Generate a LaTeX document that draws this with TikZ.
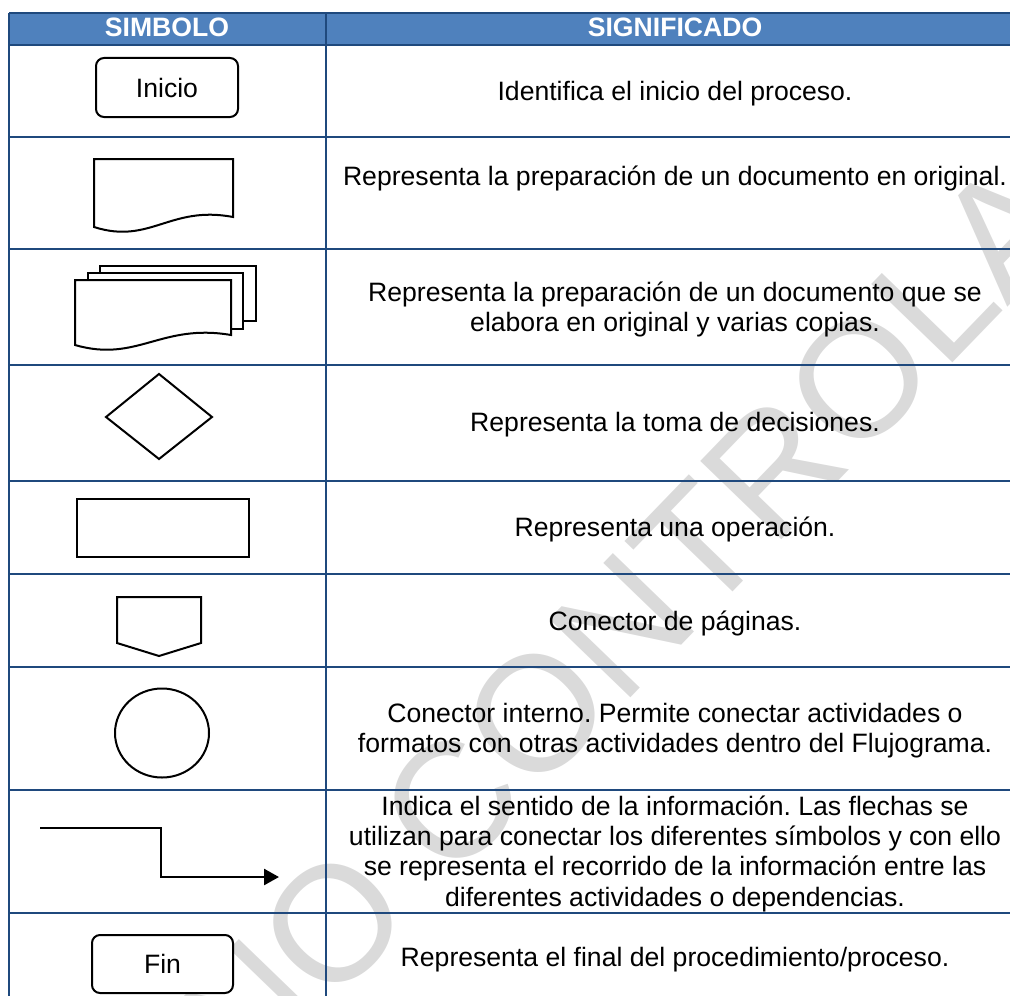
\documentclass[tikz,border=0pt]{standalone}
\usepackage{fontspec}
\setmainfont{Liberation Sans}
\usepackage{xcolor}
\usetikzlibrary{arrows.meta}
\frenchspacing

\definecolor{cabecera}{RGB}{79,129,189}
\definecolor{borde}{RGB}{31,73,125}
\definecolor{marcagris}{RGB}{218,218,218}

\begin{document}
\begin{tikzpicture}[x=0.5pt, y=-0.5pt,
    texto/.style={align=center, inner sep=0pt, font=\fontsize{13.3}{15.15}\selectfont},
    titulo/.style={text=white, inner sep=0pt, anchor=base, font=\fontsize{13.3}{15.15}\selectfont\bfseries},
    simbolo/.style={draw=black, line width=1pt, fill=white},
    terminal/.style={simbolo, rounded corners=4pt, minimum width=71pt, minimum height=29.5pt,
      inner sep=0pt, font=\fontsize{13.3}{15.15}\selectfont},
    linea/.style={draw=borde, line width=1pt},
    flecha/.style={line width=1.3pt, -{Triangle[length=7.5pt, width=8pt]}},
    marca/.style={rotate=46, text=marcagris, inner sep=0pt, font=\fontsize{82}{82}\selectfont}]
  \useasboundingbox (0,0) rectangle (1010,995);
  \clip (0,0) rectangle (1010,995);

  % cabecera y marca de agua
  \fill[cabecera] (9,13) rectangle (1040,45);
  \node[marca] (marcaAgua) at (704,540) {NO CONTROLADA};

  % rejilla de la tabla
  \draw[linea] (9,13) -- (1040,13) (9,45) -- (1040,45) (9,137) -- (1040,137)
    (9,249) -- (1040,249) (9,365) -- (1040,365) (9,481) -- (1040,481)
    (9,574) -- (1040,574) (9,667) -- (1040,667) (9,790) -- (1040,790)
    (9,913) -- (1040,913) (9,13) -- (9,1040) (326,13) -- (326,1040);

  \node[titulo] (colSimbolo) at (167,36.7) {SIMBOLO};
  \node[titulo] (colSignificado) at (675,36.7) {SIGNIFICADO};

  % simbolos
  \node[terminal] (inicio) at (167,87.5) {Inicio};
  \draw[simbolo] (94,159) -- (233,159) -- (233,217) .. controls (170,205) and (150,245) .. (94,227) -- cycle;
  \draw[simbolo] (100,266) rectangle (256,321);
  \draw[simbolo] (88,273) rectangle (243,329);
  \draw[simbolo] (75,280) -- (231,280) -- (231,335) .. controls (161,323) and (137,363) .. (75,345) -- cycle;
  \draw[simbolo] (159,374) -- (212,417) -- (159,459) -- (106,417) -- cycle;
  \draw[simbolo] (77,499) rectangle (249,557);
  \draw[simbolo] (117,597) -- (201,597) -- (201,643) -- (159,656) -- (117,643) -- cycle;
  \draw[simbolo] (162,733) ellipse [x radius=47, y radius=44.5];
  \coordinate (flechaIni) at (40,828);
  \coordinate (flechaMed) at (161,877);
  \coordinate (flechaFin) at (279,877);
  \draw[flecha] (flechaIni) -| (flechaMed) -- (flechaFin);
  \node[terminal, minimum width=70.5pt, minimum height=29pt] (fin) at (162.5,964) {Fin};

  % significados
  \node[texto, anchor=base] (sig1) at (675,100) {Identifica el inicio del proceso.};
  \node[texto, anchor=base] (sig2) at (675,185) {Representa la preparación de un documento en original.};
  \node[texto] (sig3) at (675,309.8) {Representa la preparación de un documento que se\\elabora en original y varias copias.};
  \node[texto, anchor=base] (sig4) at (675,431.7) {Representa la toma de decisiones.};
  \node[texto, anchor=base] (sig5) at (675,536.7) {Representa una operación.};
  \node[texto, anchor=base] (sig6) at (675,630) {Conector de páginas.};
  \node[texto] (sig7) at (675,730.8) {Conector interno. Permite conectar actividades o\\formatos con otras actividades dentro del Flujograma.};
  \node[texto] (sig8) at (675,853.6) {Indica el sentido de la información. Las flechas se\\utilizan para conectar los diferentes símbolos y con ello\\se representa el recorrido de la información entre las\\diferentes actividades o dependencias.};
  \node[texto, anchor=base] (sig9) at (675,966.7) {Representa el final del procedimiento/proceso.};
\end{tikzpicture}
\end{document}
